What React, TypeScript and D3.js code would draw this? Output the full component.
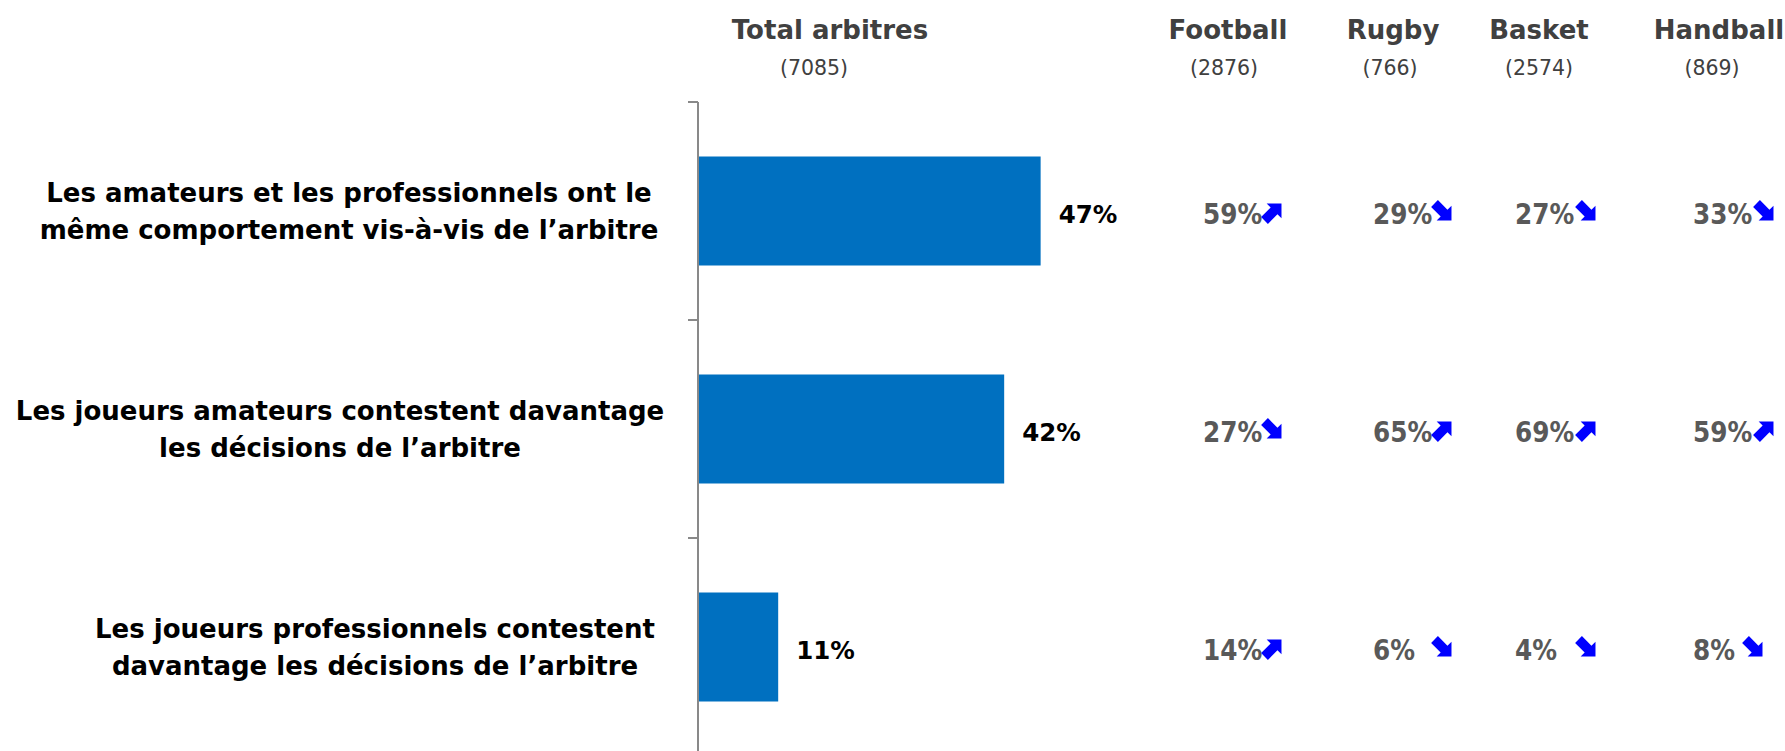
import React from "react";
import * as d3 from "d3";

// ---- data ----
const categories = [
  "Les amateurs et les professionnels ont le même comportement vis-à-vis de l’arbitre",
  "Les joueurs amateurs contestent davantage les décisions de l’arbitre",
  "Les joueurs professionnels contestent davantage les décisions de l’arbitre",
];
const categoryLines = [
  ["Les amateurs et les professionnels ont le", "même comportement vis-à-vis de l’arbitre"],
  ["Les joueurs amateurs contestent davantage", "les décisions de l’arbitre"],
  ["Les joueurs professionnels contestent", "davantage les décisions de l’arbitre"],
];
const totalValues = [47, 42, 11];
const totalTitle = "Total arbitres";
const totalCount = "(7085)";

const sports = ["Football", "Rugby", "Basket", "Handball"];
const sportCounts = ["(2876)", "(766)", "(2574)", "(869)"];
const footballValues = [59, 27, 14];
const rugbyValues = [29, 65, 6];
const basketValues = [27, 69, 4];
const handballValues = [33, 59, 8];
const footballTrend = ["up", "down", "up"];
const rugbyTrend = ["down", "up", "down"];
const basketTrend = ["down", "up", "down"];
const handballTrend = ["down", "up", "down"];

const sportValues = [footballValues, rugbyValues, basketValues, handballValues];
const sportTrends = [footballTrend, rugbyTrend, basketTrend, handballTrend];

// ---- layout ----
const W = 1785;
const H = 751;
const axisX = 698;
const labelCenters = [349, 340, 375];
const headerCenters = [1228, 1393, 1539, 1719];
const countCenters = [1224, 1390, 1539, 1712];
const valueStarts = [1203, 1373, 1515, 1693];
const arrowOffsets = [70, 70, 72, 72];

const BOLD = "'DejaVu Sans', Verdana, sans-serif";

function Arrow({ x, y, dir }: { x: number; y: number; dir: string }) {
  // east-pointing arrow, rotated to NE or SE
  const p = "M-12,-4.8 L1.5,-4.8 L1.5,-10.5 L12,0 L1.5,10.5 L1.5,4.8 L-12,4.8 Z";
  const rot = dir === "up" ? -45 : 45;
  return (
    <path d={p} fill="#0000FF" transform={`translate(${x},${y}) rotate(${rot})`} />
  );
}

export default function App() {
  const x = d3.scaleLinear().domain([0, 100]).range([axisX, axisX + 729]);
  const y = d3
    .scaleBand<string>()
    .domain(categories)
    .range([102, 756])
    .paddingInner(0.5)
    .paddingOuter(0.25);
  const step = y.step();
  const boundaries = d3.range(categories.length + 1).map((i) => 102 + i * step);

  return (
    <svg
      width={W}
      height={H}
      style={{ position: "absolute", left: 0, top: 0, background: "#fff" }}
    >
      {/* headers */}
      <text x={830} y={39} textAnchor="middle" fontFamily={BOLD} fontWeight="bold" fontSize={26} fill="#404040">
        {totalTitle}
      </text>
      <text x={814} y={75} textAnchor="middle" fontFamily={BOLD} fontSize={20.5} fill="#404040">
        {totalCount}
      </text>
      {sports.map((s, i) => (
        <g key={s}>
          <text x={headerCenters[i]} y={39} textAnchor="middle" fontFamily={BOLD} fontWeight="bold" fontSize={26} fill="#404040">
            {s}
          </text>
          <text x={countCenters[i]} y={75} textAnchor="middle" fontFamily={BOLD} fontSize={20.5} fill="#404040">
            {sportCounts[i]}
          </text>
        </g>
      ))}

      {/* axis */}
      <line x1={axisX} x2={axisX} y1={boundaries[0]} y2={H + 10} stroke="#898989" strokeWidth={2} />
      {boundaries.map((b, i) => (
        <line key={i} x1={axisX - 10} x2={axisX} y1={b} y2={b} stroke="#898989" strokeWidth={2} />
      ))}

      {/* bars */}
      {categories.map((c, i) => {
        const y0 = y(c)!;
        const cy = y0 + y.bandwidth() / 2;
        return (
          <g key={c}>
            <rect x={x(0) + 1} y={y0} width={x(totalValues[i]) - x(0) - 1} height={y.bandwidth()} fill="#0070C0" />
            <text x={x(totalValues[i]) + 18} y={cy + 12} fontFamily={BOLD} fontWeight="bold" fontSize={24.5} fill="#000">
              {totalValues[i]}%
            </text>
            {categoryLines[i].map((ln, j) => (
              <text
                key={j}
                x={labelCenters[i]}
                y={cy - 9 + j * 36.5}
                textAnchor="middle"
                fontFamily={BOLD}
                fontWeight="bold"
                fontSize={26}
                fill="#000"
              >
                {ln}
              </text>
            ))}
            {sportValues.map((vals, k) => (
              <g key={k}>
                <text
                  x={valueStarts[k]}
                  y={cy + 12.5}
                  fontFamily="'DejaVu Sans Condensed', 'DejaVu Sans', sans-serif"
                  fontStretch="condensed"
                  fontWeight="bold"
                  fontSize={27.5}
                  fill="#595959"
                >
                  {vals[i]}%
                </text>
                <Arrow
                  x={valueStarts[k] + arrowOffsets[k] - (k === 3 && vals[i] < 10 ? 11 : 0)}
                  y={cy + 1}
                  dir={sportTrends[k][i]}
                />
              </g>
            ))}
          </g>
        );
      })}
    </svg>
  );
}
